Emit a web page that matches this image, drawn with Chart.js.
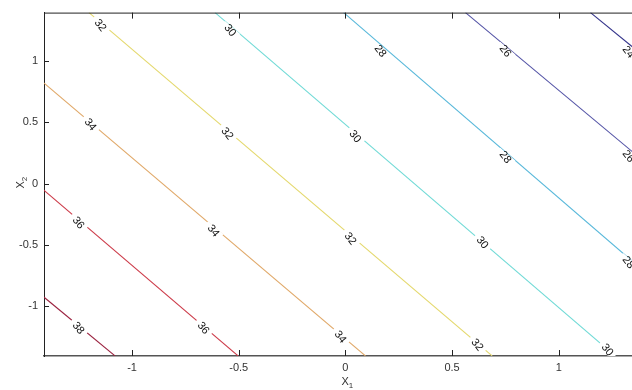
<!DOCTYPE html>
<html>
<head>
<meta charset="utf-8">
<script src="https://cdn.jsdelivr.net/npm/chart.js@4/dist/chart.umd.min.js"></script>
<style>
  html, body { margin: 0; padding: 0; background: #fff; overflow: hidden; }
  #wrap { width: 632px; height: 390px; position: relative; }
</style>
</head>
<body>
<div id="wrap"><canvas id="c" width="632" height="390"></canvas></div>
<script>
// Contour levels and their line endpoints (data coordinates X1, X2)
const levels   = [38, 36, 34, 32, 30, 28, 26, 24];
const startX1  = [-1.414, -1.414, -1.414, -1.202, -0.611, -0.008, 0.563, 1.149];
const startX2  = [-0.928, -0.054,  0.822,  1.397,  1.397,  1.397, 1.397, 1.397];
const endX1    = [-1.080, -0.503,  0.094,  0.688,  1.264,  1.414, 1.414, 1.414];
const endX2    = [-1.409, -1.409, -1.409, -1.409, -1.409, -0.740, 0.160, 1.020];
const colors   = ['#9b2340', '#cc3a48', '#e0a868', '#e4d86c', '#70dad6', '#58b8da', '#5454a6', '#32328a'];

// Inline contour labels (level, X1, X2)
const labelLevel = [38, 36, 36, 34, 34, 34, 32, 32, 32, 32, 30, 30, 30, 30, 28, 28, 28, 26, 26, 24];
const labelX1    = [-1.253, -1.253, -0.667, -1.197, -0.620, -0.025, -1.150, -0.555, 0.022, 0.617,
                    -0.541, 0.045, 0.641, 1.227, 0.163, 0.749, 1.325, 0.749, 1.325, 1.325];
const labelX2    = [-1.182, -0.322, -1.182, 0.481, -0.387, -1.255, 1.292, 0.408, -0.452, -1.320,
                    1.251, 0.384, -0.484, -1.360, 1.081, 0.214, -0.646, 1.081, 0.221, 1.073];

// Axis ranges and tick labels
const xMin = -1.413, xMax = 1.3435;
const yMin = -1.41,  yMax = 1.397;
const xTicks = [-1, -0.5, 0, 0.5, 1];
const yTicks = [-1, -0.5, 0, 0.5, 1];
const xTitle = ['X', '1'];
const yTitle = ['X', '2'];

const datasets = levels.map((lv, i) => ({
  label: String(lv),
  data: [{x: startX1[i], y: startX2[i]}, {x: endX1[i], y: endX2[i]}],
  borderColor: colors[i],
  borderWidth: 1.1,
  pointRadius: 0,
  showLine: true,
  fill: false
}));

const contourPlugin = {
  id: 'contourDecor',
  afterDatasetsDraw(chart) {
    const ctx = chart.ctx, xs = chart.scales.x, ys = chart.scales.y, a = chart.chartArea;
    // inline labels with gaps
    ctx.save();
    ctx.beginPath();
    ctx.rect(a.left, a.top, a.right - a.left, a.bottom - a.top);
    ctx.clip();
    labelLevel.forEach((lv, k) => {
      const i = levels.indexOf(lv);
      const px = xs.getPixelForValue(labelX1[k]);
      const py = ys.getPixelForValue(labelX2[k]);
      const dx = xs.getPixelForValue(endX1[i]) - xs.getPixelForValue(startX1[i]);
      const dy = ys.getPixelForValue(endX2[i]) - ys.getPixelForValue(startX2[i]);
      const ang = Math.atan2(dy, dx);
      ctx.save();
      ctx.translate(px, py);
      ctx.rotate(ang);
      ctx.fillStyle = '#ffffff';
      ctx.fillRect(-10, -4, 20, 8);
      ctx.restore();
      ctx.save();
      ctx.translate(px, py);
      ctx.rotate(52 * Math.PI / 180);
      ctx.fillStyle = '#111';
      ctx.font = '11px "Liberation Sans", Arial, sans-serif';
      ctx.textAlign = 'center';
      ctx.textBaseline = 'middle';
      ctx.fillText(String(lv), 0, 0);
      ctx.restore();
    });
    ctx.restore();

    // frame: top line and inward ticks
    ctx.save();
    ctx.strokeStyle = '#222';
    ctx.lineWidth = 1;
    ctx.beginPath();
    ctx.moveTo(a.left, a.top + 0.5);
    ctx.lineTo(a.right, a.top + 0.5);
    xs.ticks.forEach(t => {
      const x = Math.round(xs.getPixelForValue(t.value)) + 0.5;
      ctx.moveTo(x, a.bottom);
      ctx.lineTo(x, a.bottom - 6);
      ctx.moveTo(x, a.top);
      ctx.lineTo(x, a.top + 6);
    });
    ys.ticks.forEach(t => {
      const y = Math.round(ys.getPixelForValue(t.value)) + 0.5;
      ctx.moveTo(a.left, y);
      ctx.lineTo(a.left + 5, y);
    });
    ctx.stroke();

    // axis titles with subscripts
    ctx.fillStyle = '#333';
    ctx.textBaseline = 'alphabetic';
    ctx.font = '11px "Liberation Sans", Arial, sans-serif';
    const cx = xs.getPixelForValue(0);
    ctx.textAlign = 'left';
    const w = ctx.measureText(xTitle[0]).width;
    ctx.fillText(xTitle[0], cx - 4, 385);
    ctx.font = '8px "Liberation Sans", Arial, sans-serif';
    ctx.fillText(xTitle[1], cx - 4 + w, 388);

    const cy = ys.getPixelForValue(0);
    ctx.save();
    ctx.translate(24, cy + 5);
    ctx.rotate(-Math.PI / 2);
    ctx.font = '11px "Liberation Sans", Arial, sans-serif';
    ctx.fillText(yTitle[0], 0, 0);
    const w2 = ctx.measureText(yTitle[0]).width;
    ctx.font = '8px "Liberation Sans", Arial, sans-serif';
    ctx.fillText(yTitle[1], w2, 3);
    ctx.restore();
    ctx.restore();
  }
};

new Chart(document.getElementById('c'), {
  type: 'scatter',
  data: { datasets },
  options: {
    responsive: false,
    animation: false,
    layout: { padding: { top: 10, right: 0, left: 0, bottom: 0 } },
    plugins: { legend: { display: false }, tooltip: { enabled: false } },
    scales: {
      x: {
        type: 'linear', min: xMin, max: xMax,
        afterBuildTicks: s => { s.ticks = xTicks.map(v => ({ value: v })); },
        afterFit: s => { s.height = 34; },
        grid: { display: true, drawOnChartArea: false, drawTicks: false },
        border: { display: true, color: '#555', width: 1.5 },
        ticks: {
          padding: 5, color: '#333', maxRotation: 0, autoSkip: false,
          font: { family: '"Liberation Sans", Arial, sans-serif', size: 11 },
          callback: v => String(v)
        }
      },
      y: {
        type: 'linear', min: yMin, max: yMax,
        afterBuildTicks: s => { s.ticks = yTicks.map(v => ({ value: v })); },
        afterFit: s => { s.width = 44; },
        grid: { display: true, drawOnChartArea: false, drawTicks: false },
        border: { display: true, color: '#222', width: 1 },
        ticks: {
          padding: 6, color: '#333', autoSkip: false,
          font: { family: '"Liberation Sans", Arial, sans-serif', size: 11 },
          callback: v => String(v)
        }
      }
    }
  },
  plugins: [contourPlugin]
});
</script>
</body>
</html>
